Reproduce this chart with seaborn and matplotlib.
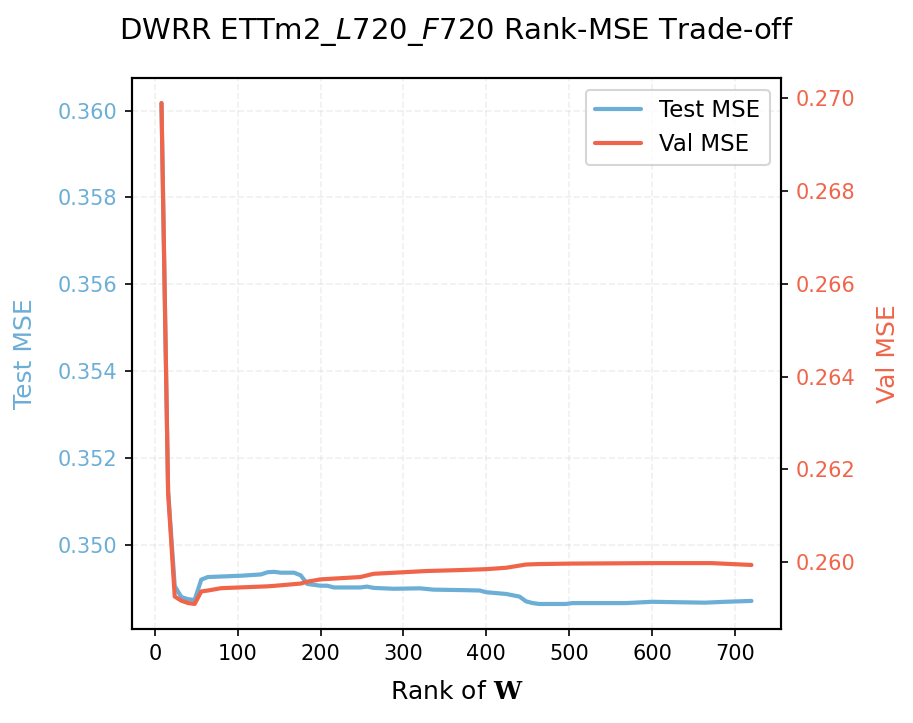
import matplotlib
matplotlib.use("Agg")
import matplotlib.pyplot as plt
import seaborn as sns
import pandas as pd

# values
test_ranks = [8, 16, 24, 32, 40, 48, 56, 64, 104, 128, 136, 144, 152, 168, 176, 184,
              200, 208, 216, 248, 256, 264, 288, 320, 336, 368, 392, 400, 424, 440,
              448, 456, 464, 496, 504, 568, 600, 664, 688, 720]
test_mse = [0.36017, 0.35124, 0.34905, 0.34880, 0.34875, 0.34873, 0.34920, 0.34926,
            0.34929, 0.34932, 0.34937, 0.34938, 0.34936, 0.34936, 0.34930, 0.34910,
            0.34906, 0.34906, 0.34902, 0.34902, 0.34904, 0.34901, 0.34899, 0.34900,
            0.34897, 0.34896, 0.34895, 0.34891, 0.34887, 0.34881, 0.34870, 0.34866,
            0.34864, 0.34864, 0.34866, 0.34866, 0.34869, 0.34867, 0.34869, 0.34871]

val_ranks = [8, 16, 24, 32, 40, 48, 56, 64, 80, 136, 144, 176, 184, 200, 248, 264,
             296, 328, 368, 400, 424, 448, 464, 504, 600, 672, 720]
val_mse = [0.26989, 0.26150, 0.25926, 0.25917, 0.25912, 0.25910, 0.25937, 0.25939,
           0.25944, 0.25948, 0.25949, 0.25954, 0.25958, 0.25963, 0.25968, 0.25975,
           0.25978, 0.25981, 0.25983, 0.25985, 0.25988, 0.25995, 0.25996, 0.25997,
           0.25998, 0.25998, 0.25994]

BLUE = "#6baed6"
RED = "#f0654a"

test_df = pd.DataFrame({"rank": test_ranks, "mse": test_mse})
val_df = pd.DataFrame({"rank": val_ranks, "mse": val_mse})

sns.set_style("ticks")
plt.rcParams["font.family"] = ["DejaVu Sans"]
plt.rcParams.update({"text.color": "black", "axes.labelcolor": "black",
                     "xtick.color": "black", "ytick.color": "black"})

fig, ax = plt.subplots(figsize=(6.093, 4.82), dpi=150)
ax2 = ax.twinx()

sns.lineplot(data=test_df, x="rank", y="mse", ax=ax, color=BLUE, linewidth=2, label="Test MSE", legend=False)
sns.lineplot(data=val_df, x="rank", y="mse", ax=ax2, color=RED, linewidth=2, label="Val MSE", legend=False)

ax.grid(True, linestyle="--", alpha=0.3)
ax.set_xticks([0, 100, 200, 300, 400, 500, 600, 700])
ax.set_yticks([0.350, 0.352, 0.354, 0.356, 0.358, 0.360])
ax2.set_yticks([0.260, 0.262, 0.264, 0.266, 0.268, 0.270])
ax.yaxis.set_major_formatter(matplotlib.ticker.FormatStrFormatter("%.3f"))
ax2.yaxis.set_major_formatter(matplotlib.ticker.FormatStrFormatter("%.3f"))

ax.set_xlabel(r"Rank of $\mathbf{W}$", fontsize=12, math_fontfamily="dejavuserif", labelpad=8)
ax.set_ylabel("Test MSE", color=BLUE, fontsize=12, labelpad=10)
ax2.set_ylabel("Val MSE", color=RED, fontsize=12, labelpad=10)
ax.tick_params(axis="y", labelcolor=BLUE, labelsize=10)
ax2.tick_params(axis="y", labelcolor=RED, labelsize=10)
ax.tick_params(axis="x", labelsize=10)
for a in (ax, ax2):
    for s in a.spines.values():
        s.set_color("black")
        s.set_linewidth(1)

ax.set_title(r"DWRR ETTm2_$L$720_$F$720 Rank-MSE Trade-off", fontsize=14, pad=19)

h1, l1 = ax.get_legend_handles_labels()
h2, l2 = ax2.get_legend_handles_labels()
ax.legend(h1 + h2, l1 + l2, loc="upper right", fontsize=11)

fig.subplots_adjust(left=0.1444, right=0.8545, top=0.892, bottom=0.130)
fig.savefig("out.png", dpi=150)
